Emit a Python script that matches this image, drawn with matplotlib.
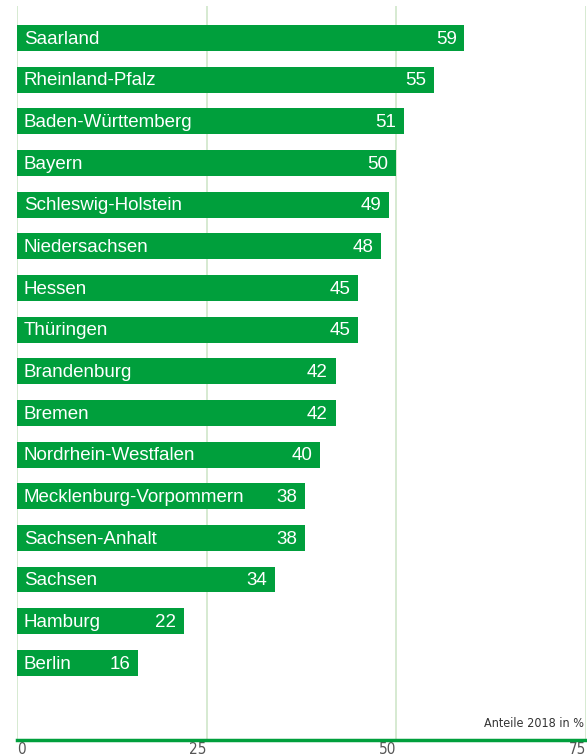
import matplotlib.pyplot as plt
from matplotlib import font_manager

# Anteile 2018 in % nach Bundesland
states = ['Saarland', 'Rheinland-Pfalz', 'Baden-Württemberg', 'Bayern',
          'Schleswig-Holstein', 'Niedersachsen', 'Hessen', 'Thüringen',
          'Brandenburg', 'Bremen', 'Nordrhein-Westfalen',
          'Mecklenburg-Vorpommern', 'Sachsen-Anhalt', 'Sachsen', 'Hamburg',
          'Berlin']
values = [59, 55, 51, 50, 49, 48, 45, 45, 42, 42, 40, 38, 38, 34, 22, 16]
xticks = [0, 25, 50, 75]
unit_label = 'Anteile 2018 in %'

green = '#009f3c'
grid_green = '#cfe6c9'

plt.rcParams['font.family'] = ['Liberation Sans', 'DejaVu Sans']

# condensed face for the small axis texts
cond_file = font_manager.findfont(
    font_manager.FontProperties(family='DejaVu Sans', stretch='condensed'))

fig = plt.figure(figsize=(5.87, 7.56), dpi=100)
ax = fig.add_axes([0.029, 0.0212, 0.969, 0.971])

pos = list(range(len(states)))
ax.barh(pos, values, height=0.62, color=green, zorder=2)

for y, name, v in zip(pos, states, values):
    ax.text(0.9, y + 0.03, name, color='white', fontsize=13.5, va='center', ha='left', zorder=3)
    ax.text(v - 1.0, y + 0.03, str(v), color='white', fontsize=13.5, va='center', ha='right', zorder=3)

ax.set_xlim(0, 75)
ax.set_ylim(16.85, -0.77)

for x in xticks:
    ax.axvline(x, color=grid_green, lw=1.2, zorder=1)

for s in ['top', 'right', 'left']:
    ax.spines[s].set_visible(False)
ax.spines['bottom'].set_color(green)
ax.spines['bottom'].set_linewidth(2.5)
ax.spines['bottom'].set_zorder(4)

ax.set_xticks([])
ax.set_yticks([])

for x in xticks:
    ha = 'left' if x == 0 else 'right'
    ax.text(x, 16.9, str(x), color='#555555',
            fontproperties=font_manager.FontProperties(fname=cond_file, size=11),
            ha=ha, va='top', clip_on=False)

ax.text(74.7, 16.6, unit_label, color='#333333',
        fontproperties=font_manager.FontProperties(fname=cond_file, size=9),
        ha='right', va='bottom')

fig.savefig('out.png', dpi=100)
